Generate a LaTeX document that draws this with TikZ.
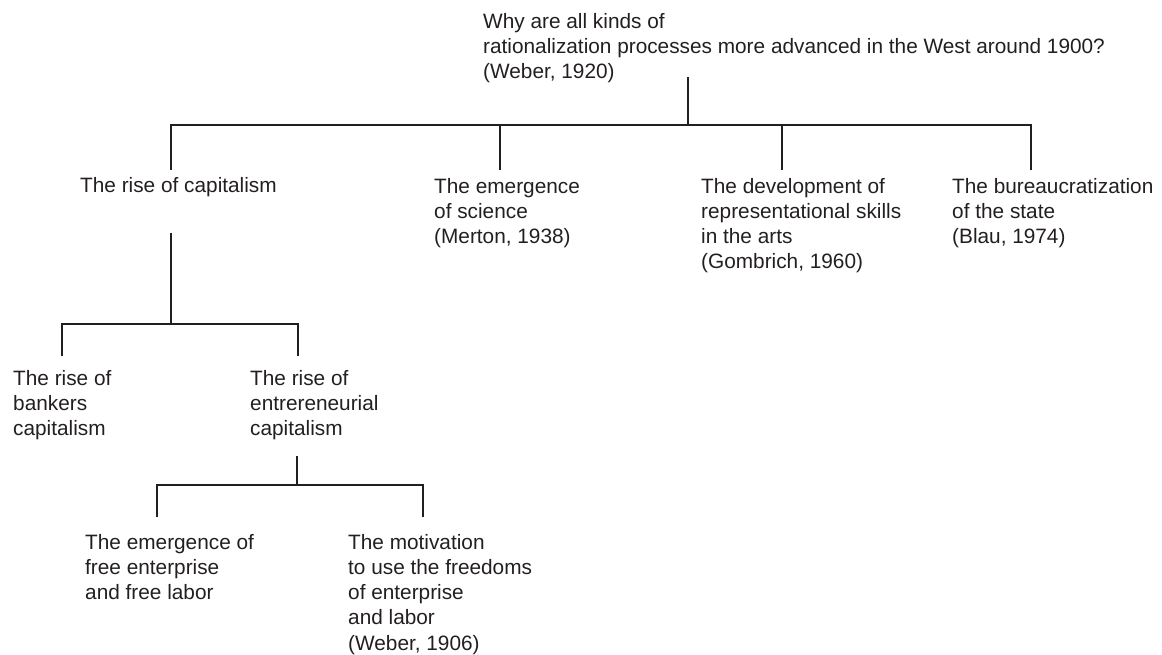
\documentclass[tikz,border=0pt]{standalone}
\usepackage{fontspec}
\setmainfont{Liberation Sans}
\definecolor{ink}{HTML}{231F20}
\begin{document}
\begin{tikzpicture}[x=1pt,y=-1pt,
  lbl/.style={anchor=base west, inner sep=0pt, align=left, text=ink,
    font=\fontsize{20.8}{25.3}\selectfont},
  link/.style={draw=ink, line width=1.5pt}]
\useasboundingbox (0,0) rectangle (1162,654);
% nodes (anchored at the baseline of their last line)
\node[lbl] (root) at (483,78.6) {Why are all kinds of\\rationalization processes more advanced in the West around 1900?\\(Weber, 1920)};
\node[lbl] (cap) at (80,192) {The rise of capitalism};
\node[lbl] (sci) at (434,243.6) {The emergence\\of science\\(Merton, 1938)};
\node[lbl] (art) at (701,268.9) {The development of\\representational skills\\in the arts\\(Gombrich, 1960)};
\node[lbl] (bur) at (952,243.6) {The bureaucratization\\of the state\\(Blau, 1974)};
\node[lbl] (bank) at (13,435.6) {The rise of\\bankers\\capitalism};
\node[lbl] (ent) at (250,435.6) {The rise of\\entrereneurial\\capitalism};
\node[lbl] (free) at (85,599.6) {The emergence of\\free enterprise\\and free labor};
\node[lbl] (mot) at (348,650.2) {The motivation\\to use the freedoms\\of enterprise\\and labor\\(Weber, 1906)};
% connector points
\coordinate (rootB) at (688,77);
\coordinate (bar1) at (688,125);
\coordinate (capT) at (171,170);
\coordinate (sciT) at (500,170);
\coordinate (artT) at (782,170);
\coordinate (burT) at (1031,170);
\coordinate (capB) at (171,233);
\coordinate (bar2) at (171,324);
\coordinate (bankT) at (62,356);
\coordinate (entT) at (298,356);
\coordinate (entB) at (297,456);
\coordinate (bar3) at (297,485);
\coordinate (freeT) at (157,517);
\coordinate (motT) at (423,517);
% connectors
\draw[link] (rootB) -- (bar1);
\draw[link] (capT) -- (capT |- bar1) -- (burT |- bar1) -- (burT);
\draw[link] (sciT) -- (sciT |- bar1);
\draw[link] (artT) -- (artT |- bar1);
\draw[link] (capB) -- (bar2);
\draw[link] (bankT) -- (bankT |- bar2) -- (entT |- bar2) -- (entT);
\draw[link] (entB) -- (bar3);
\draw[link] (freeT) -- (freeT |- bar3) -- (motT |- bar3) -- (motT);
\end{tikzpicture}
\end{document}
